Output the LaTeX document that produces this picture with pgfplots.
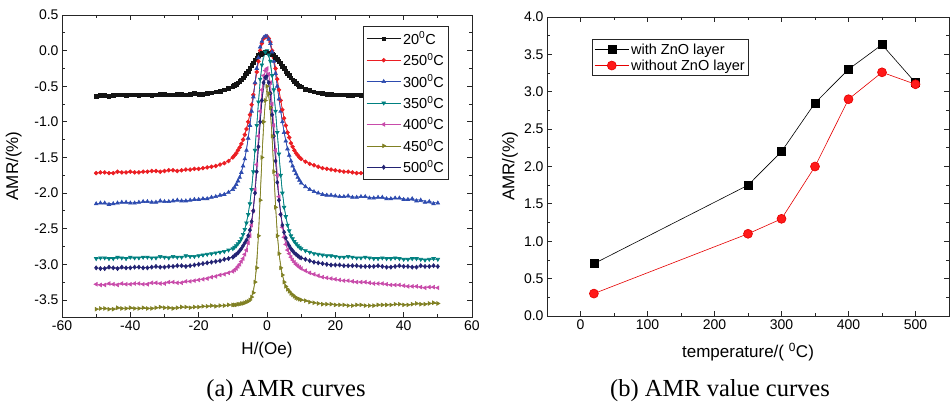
\documentclass[border=0pt]{standalone}
\usepackage{fontspec}
\setmainfont{Liberation Sans}
\newfontfamily\capfont{Liberation Serif}
\usepackage{pgfplots}
\pgfplotsset{compat=1.18}
\usepackage{pgfplotstable}

\definecolor{cA}{RGB}{20,20,20}
\definecolor{cB}{RGB}{235,30,35}
\definecolor{cC}{RGB}{45,75,175}
\definecolor{cD}{RGB}{0,128,128}
\definecolor{cE}{RGB}{200,75,170}
\definecolor{cF}{RGB}{128,128,35}
\definecolor{cG}{RGB}{35,35,115}

% sweep branch
\pgfplotstableread{
x     c20   c250  c300  c350  c400  c450  c500
-50   -0.64 -1.72 -2.15 -2.92 -3.28 -3.63 -3.05
-47.5 -0.63 -1.71 -2.14 -2.91 -3.29 -3.62 -3.06
-45   -0.63 -1.72 -2.15 -2.92 -3.28 -3.63 -3.05
-42.5 -0.62 -1.71 -2.13 -2.91 -3.27 -3.62 -3.04
-40   -0.62 -1.70 -2.14 -2.90 -3.28 -3.61 -3.05
-37.5 -0.63 -1.71 -2.13 -2.91 -3.27 -3.62 -3.04
-35   -0.62 -1.70 -2.12 -2.90 -3.28 -3.62 -3.05
-32.5 -0.62 -1.69 -2.13 -2.91 -3.26 -3.61 -3.03
-30   -0.61 -1.69 -2.12 -2.90 -3.27 -3.61 -3.04
-27.5 -0.62 -1.68 -2.11 -2.89 -3.25 -3.62 -3.03
-25   -0.61 -1.68 -2.11 -2.90 -3.26 -3.60 -3.02
-22.5 -0.61 -1.67 -2.10 -2.89 -3.24 -3.61 -3.02
-20   -0.61 -1.66 -2.09 -2.88 -3.22 -3.60 -3.00
-17.5 -0.60 -1.64 -2.08 -2.86 -3.20 -3.59 -2.98
-15   -0.58 -1.62 -2.05 -2.84 -3.17 -3.59 -2.96
-12.5 -0.55 -1.58 -2.02 -2.82 -3.14 -3.58 -2.93
-10   -0.50 -1.50 -1.95 -2.78 -3.10 -3.57 -2.90
-9    -0.47 -1.44 -1.88 -2.74 -3.06 -3.57 -2.86
-8    -0.43 -1.36 -1.78 -2.68 -3.00 -3.56 -2.81
-7    -0.38 -1.25 -1.62 -2.58 -2.92 -3.55 -2.74
-6    -0.32 -1.10 -1.40 -2.42 -2.80 -3.53 -2.66
-5    -0.25 -0.90 -1.05 -2.15 -2.60 -3.50 -2.52
-4    -0.17 -0.62 -0.65 -1.70 -2.25 -3.40 -2.25
-3    -0.10 -0.30 -0.25 -1.05 -1.60 -3.05 -1.70
-2    -0.05  0.00  0.05 -0.40 -0.85 -2.10 -1.00
-1    -0.03  0.17  0.18 -0.05 -0.35 -1.00 -0.45
0     -0.02  0.20  0.20  0.00 -0.25 -0.50 -0.35
1     -0.04  0.12  0.10 -0.15 -0.45 -0.80 -0.60
2     -0.07 -0.10 -0.15 -0.55 -1.05 -1.70 -1.20
3     -0.12 -0.40 -0.50 -1.15 -1.75 -2.60 -1.85
4     -0.18 -0.70 -0.85 -1.75 -2.30 -3.05 -2.30
5     -0.25 -0.95 -1.15 -2.20 -2.62 -3.25 -2.55
6     -0.32 -1.15 -1.38 -2.45 -2.80 -3.35 -2.70
7     -0.38 -1.30 -1.55 -2.60 -2.90 -3.41 -2.78
8     -0.43 -1.40 -1.68 -2.68 -2.97 -3.45 -2.84
9     -0.48 -1.47 -1.78 -2.74 -3.02 -3.48 -2.88
10    -0.51 -1.52 -1.86 -2.78 -3.06 -3.50 -2.91
12.5  -0.56 -1.59 -1.95 -2.83 -3.12 -3.53 -2.95
15    -0.59 -1.63 -2.00 -2.86 -3.16 -3.55 -2.98
17.5  -0.61 -1.66 -2.03 -2.88 -3.19 -3.56 -3.00
20    -0.62 -1.68 -2.04 -2.89 -3.21 -3.57 -3.01
22.5  -0.62 -1.70 -2.05 -2.90 -3.23 -3.57 -3.02
25    -0.63 -1.71 -2.06 -2.90 -3.24 -3.58 -3.02
27.5  -0.63 -1.72 -2.05 -2.91 -3.25 -3.57 -3.03
30    -0.63 -1.73 -2.07 -2.91 -3.26 -3.58 -3.03
32.5  -0.63 -1.73 -2.06 -2.92 -3.27 -3.57 -3.02
35    -0.64 -1.74 -2.08 -2.92 -3.28 -3.57 -3.04
37.5  -0.63 -1.74 -2.07 -2.91 -3.29 -3.56 -3.03
40    -0.64 -1.74 -2.09 -2.93 -3.30 -3.57 -3.03
42.5  -0.64 -1.75 -2.08 -2.92 -3.31 -3.56 -3.04
45    -0.64 -1.75 -2.10 -2.93 -3.32 -3.56 -3.02
47.5  -0.64 -1.74 -2.12 -2.93 -3.32 -3.55 -3.03
50    -0.64 -1.75 -2.14 -2.93 -3.33 -3.55 -3.03
}\amrdata

% return branch
\pgfplotstableread{
x      c20   c250  c300  c350  c400  c450  c500
-48.75 -0.63 -1.71 -2.14 -2.91 -3.29 -3.62 -3.06
-46.25 -0.64 -1.72 -2.16 -2.92 -3.27 -3.63 -3.04
-43.75 -0.62 -1.70 -2.14 -2.90 -3.29 -3.61 -3.06
-41.25 -0.63 -1.71 -2.13 -2.92 -3.28 -3.62 -3.05
-38.75 -0.62 -1.71 -2.14 -2.91 -3.27 -3.62 -3.04
-36.25 -0.62 -1.70 -2.12 -2.90 -3.28 -3.61 -3.05
-33.75 -0.63 -1.69 -2.13 -2.91 -3.26 -3.62 -3.04
-31.25 -0.61 -1.70 -2.11 -2.89 -3.27 -3.60 -3.04
-28.75 -0.62 -1.68 -2.12 -2.91 -3.25 -3.61 -3.03
-26.25 -0.61 -1.69 -2.10 -2.90 -3.26 -3.61 -3.02
-23.75 -0.62 -1.67 -2.11 -2.88 -3.24 -3.60 -3.03
-21.25 -0.60 -1.66 -2.09 -2.89 -3.23 -3.60 -3.01
-18.75 -0.61 -1.65 -2.08 -2.87 -3.21 -3.59 -2.99
-16.25 -0.59 -1.63 -2.06 -2.85 -3.18 -3.58 -2.97
-13.75 -0.57 -1.60 -2.03 -2.83 -3.15 -3.58 -2.95
-11.25 -0.53 -1.55 -1.99 -2.80 -3.12 -3.57 -2.92
-9.5   -0.49 -1.47 -1.92 -2.76 -3.08 -3.57 -2.88
-8.5   -0.45 -1.40 -1.83 -2.71 -3.03 -3.56 -2.84
-7.5   -0.41 -1.31 -1.71 -2.64 -2.96 -3.55 -2.78
-6.5   -0.35 -1.18 -1.52 -2.51 -2.86 -3.54 -2.70
-5.5   -0.29 -1.00 -1.23 -2.30 -2.70 -3.52 -2.60
-4.5   -0.21 -0.76 -0.85 -1.95 -2.45 -3.46 -2.40
-3.5   -0.13 -0.46 -0.45 -1.40 -1.95 -3.25 -2.00
-2.5   -0.07 -0.15 -0.10 -0.72 -1.20 -2.60 -1.35
-1.5   -0.04  0.10  0.13 -0.20 -0.55 -1.50 -0.70
-0.5   -0.02  0.19  0.20 -0.02 -0.28 -0.70 -0.38
0.5    -0.03  0.17  0.16 -0.06 -0.33 -0.60 -0.45
1.5    -0.05  0.00 -0.02 -0.35 -0.75 -1.20 -0.90
2.5    -0.09 -0.25 -0.32 -0.85 -1.40 -2.20 -1.55
3.5    -0.15 -0.55 -0.68 -1.45 -2.05 -2.85 -2.10
4.5    -0.22 -0.83 -1.00 -2.00 -2.48 -3.15 -2.45
5.5    -0.29 -1.05 -1.27 -2.33 -2.72 -3.31 -2.63
6.5    -0.35 -1.22 -1.47 -2.53 -2.85 -3.38 -2.74
7.5    -0.41 -1.35 -1.62 -2.64 -2.94 -3.43 -2.81
8.5    -0.46 -1.44 -1.73 -2.71 -3.00 -3.47 -2.86
9.5    -0.50 -1.50 -1.82 -2.76 -3.04 -3.49 -2.90
11.25  -0.54 -1.56 -1.91 -2.81 -3.09 -3.51 -2.93
13.75  -0.58 -1.61 -1.98 -2.85 -3.14 -3.54 -2.97
16.25  -0.60 -1.65 -2.02 -2.87 -3.18 -3.56 -2.99
18.75  -0.61 -1.67 -2.03 -2.88 -3.20 -3.56 -3.01
21.25  -0.62 -1.69 -2.05 -2.90 -3.22 -3.57 -3.01
23.75  -0.63 -1.70 -2.04 -2.89 -3.23 -3.58 -3.02
26.25  -0.62 -1.72 -2.06 -2.91 -3.25 -3.57 -3.02
28.75  -0.63 -1.72 -2.05 -2.90 -3.25 -3.58 -3.03
31.25  -0.64 -1.74 -2.07 -2.92 -3.27 -3.58 -3.03
33.75  -0.63 -1.73 -2.06 -2.91 -3.27 -3.57 -3.03
36.25  -0.64 -1.75 -2.08 -2.92 -3.29 -3.57 -3.04
38.75  -0.64 -1.74 -2.07 -2.92 -3.29 -3.56 -3.02
41.25  -0.63 -1.75 -2.09 -2.93 -3.31 -3.57 -3.03
43.75  -0.65 -1.76 -2.11 -2.92 -3.31 -3.55 -3.04
46.25  -0.64 -1.75 -2.13 -2.94 -3.33 -3.56 -3.03
48.75  -0.65 -1.74 -2.15 -2.92 -3.32 -3.54 -3.02
}\amrret

\pgfplotstableread{
T   with  without
20  0.70  0.30
250 1.75  1.10
300 2.20  1.30
350 2.85  2.00
400 3.30  2.90
450 3.63  3.26
500 3.12  3.10
}\amrval

\pgfplotsset{
  myax/.style={
    scale only axis,
    axis line style={line width=0.9pt, black!85},
    every tick/.style={black!85, line width=0.8pt},
    major tick length=5pt, minor tick length=3pt,
    tick align=inside,
    ticklabel style={font=\fontsize{14}{14}\selectfont},
    label style={font=\fontsize{17}{17}\selectfont},
    /pgf/number format/assume math mode=true,
    legend cell align=left,
  },
  longleg/.style={legend image code/.code={%
    \draw[mark repeat=2,mark phase=2] plot coordinates {(0cm,0cm) (0.6cm,0cm) (1.2cm,0cm)};}},
}

\begin{document}
\begin{tikzpicture}
\path[use as bounding box] (0pt,0pt) rectangle (950pt,-404pt);

\begin{axis}[myax, longleg,
  at={(62pt,-15pt)}, anchor=north west,
  width=410pt, height=302pt,
  xmin=-60, xmax=60, ymin=-3.74, ymax=0.5,
  xtick={-60,-40,-20,0,20,40,60}, minor x tick num=1,
  ytick={-3.5,-3,-2.5,-2,-1.5,-1,-0.5,0,0.5}, minor y tick num=1,
  yticklabel style={/pgf/number format/.cd, fixed, fixed zerofill, precision=1},
  xlabel={H/(Oe)}, ylabel={AMR/(\%)},
  xlabel style={at={(axis description cs:0.5,-0.11)}, anchor=center},
  ylabel style={at={(axis description cs:-0.118,0.5)}, anchor=center},
  legend style={at={(0.734,0.962)}, anchor=north west, draw=black!85, line width=0.8pt,
    font=\fontsize{14.5}{14.5}\selectfont, row sep=3.6pt, inner sep=3pt},
  every axis plot/.append style={line width=0.6pt, mark size=2.1pt},
]
\addplot[cA, mark=square*, mark size=1.8pt] table[x=x,y=c20] {\amrdata};
\addlegendentry{20\textsuperscript{0}C}
\addplot[cB, mark=*, mark size=1.9pt] table[x=x,y=c250] {\amrdata};
\addlegendentry{250\textsuperscript{0}C}
\addplot[cC, mark=triangle*] table[x=x,y=c300] {\amrdata};
\addlegendentry{300\textsuperscript{0}C}
\addplot[cD, mark=triangle*, mark options={rotate=180}] table[x=x,y=c350] {\amrdata};
\addlegendentry{350\textsuperscript{0}C}
\addplot[cE, mark=triangle*, mark options={rotate=90}] table[x=x,y=c400] {\amrdata};
\addlegendentry{400\textsuperscript{0}C}
\addplot[cF, mark=triangle*, mark options={rotate=-90}] table[x=x,y=c450] {\amrdata};
\addlegendentry{450\textsuperscript{0}C}
\addplot[cG, mark=diamond*] table[x=x,y=c500] {\amrdata};
\addlegendentry{500\textsuperscript{0}C}
\addplot[cA, mark=square*, mark size=1.8pt, forget plot] table[x=x,y=c20] {\amrret};
\addplot[cB, mark=*, mark size=1.9pt, forget plot] table[x=x,y=c250] {\amrret};
\addplot[cC, mark=triangle*, forget plot] table[x=x,y=c300] {\amrret};
\addplot[cD, mark=triangle*, mark options={rotate=180}, forget plot] table[x=x,y=c350] {\amrret};
\addplot[cE, mark=triangle*, mark options={rotate=90}, forget plot] table[x=x,y=c400] {\amrret};
\addplot[cF, mark=triangle*, mark options={rotate=-90}, forget plot] table[x=x,y=c450] {\amrret};
\addplot[cG, mark=diamond*, forget plot] table[x=x,y=c500] {\amrret};
\end{axis}

\begin{axis}[myax, longleg,
  at={(547pt,-17pt)}, anchor=north west,
  width=402pt, height=299pt,
  xmin=-50, xmax=550, ymin=0, ymax=4,
  xtick={0,100,200,300,400,500}, minor x tick num=1,
  ytick={0,0.5,1,1.5,2,2.5,3,3.5,4}, minor y tick num=1,
  yticklabel style={/pgf/number format/.cd, fixed, fixed zerofill, precision=1},
  xlabel={temperature/( \textsuperscript{0}C)}, ylabel={AMR/(\%)},
  xlabel style={at={(axis description cs:0.5,-0.12)}, anchor=center},
  ylabel style={at={(axis description cs:-0.092,0.5)}, anchor=center},
  legend style={at={(0.112,0.926)}, anchor=north west, draw=black!85, line width=0.8pt,
    font=\fontsize{14.5}{14.5}\selectfont, row sep=0pt, inner sep=2pt},
  every axis plot/.append style={line width=0.6pt},
]
\addplot[black, mark=square*, mark size=4pt] table[x=T,y=with] {\amrval};
\addlegendentry{with ZnO layer}
\addplot[red!90!black, mark=*, mark size=4.5pt, mark options={fill=red!90}] table[x=T,y=without] {\amrval};
\addlegendentry{without ZnO layer}
\end{axis}

\node[font=\capfont\fontsize{24.5}{24.5}\selectfont] at (286pt,-391pt) {(a) AMR curves};
\node[font=\capfont\fontsize{24.5}{24.5}\selectfont] at (720pt,-391pt) {(b) AMR value curves};
\end{tikzpicture}
\end{document}
